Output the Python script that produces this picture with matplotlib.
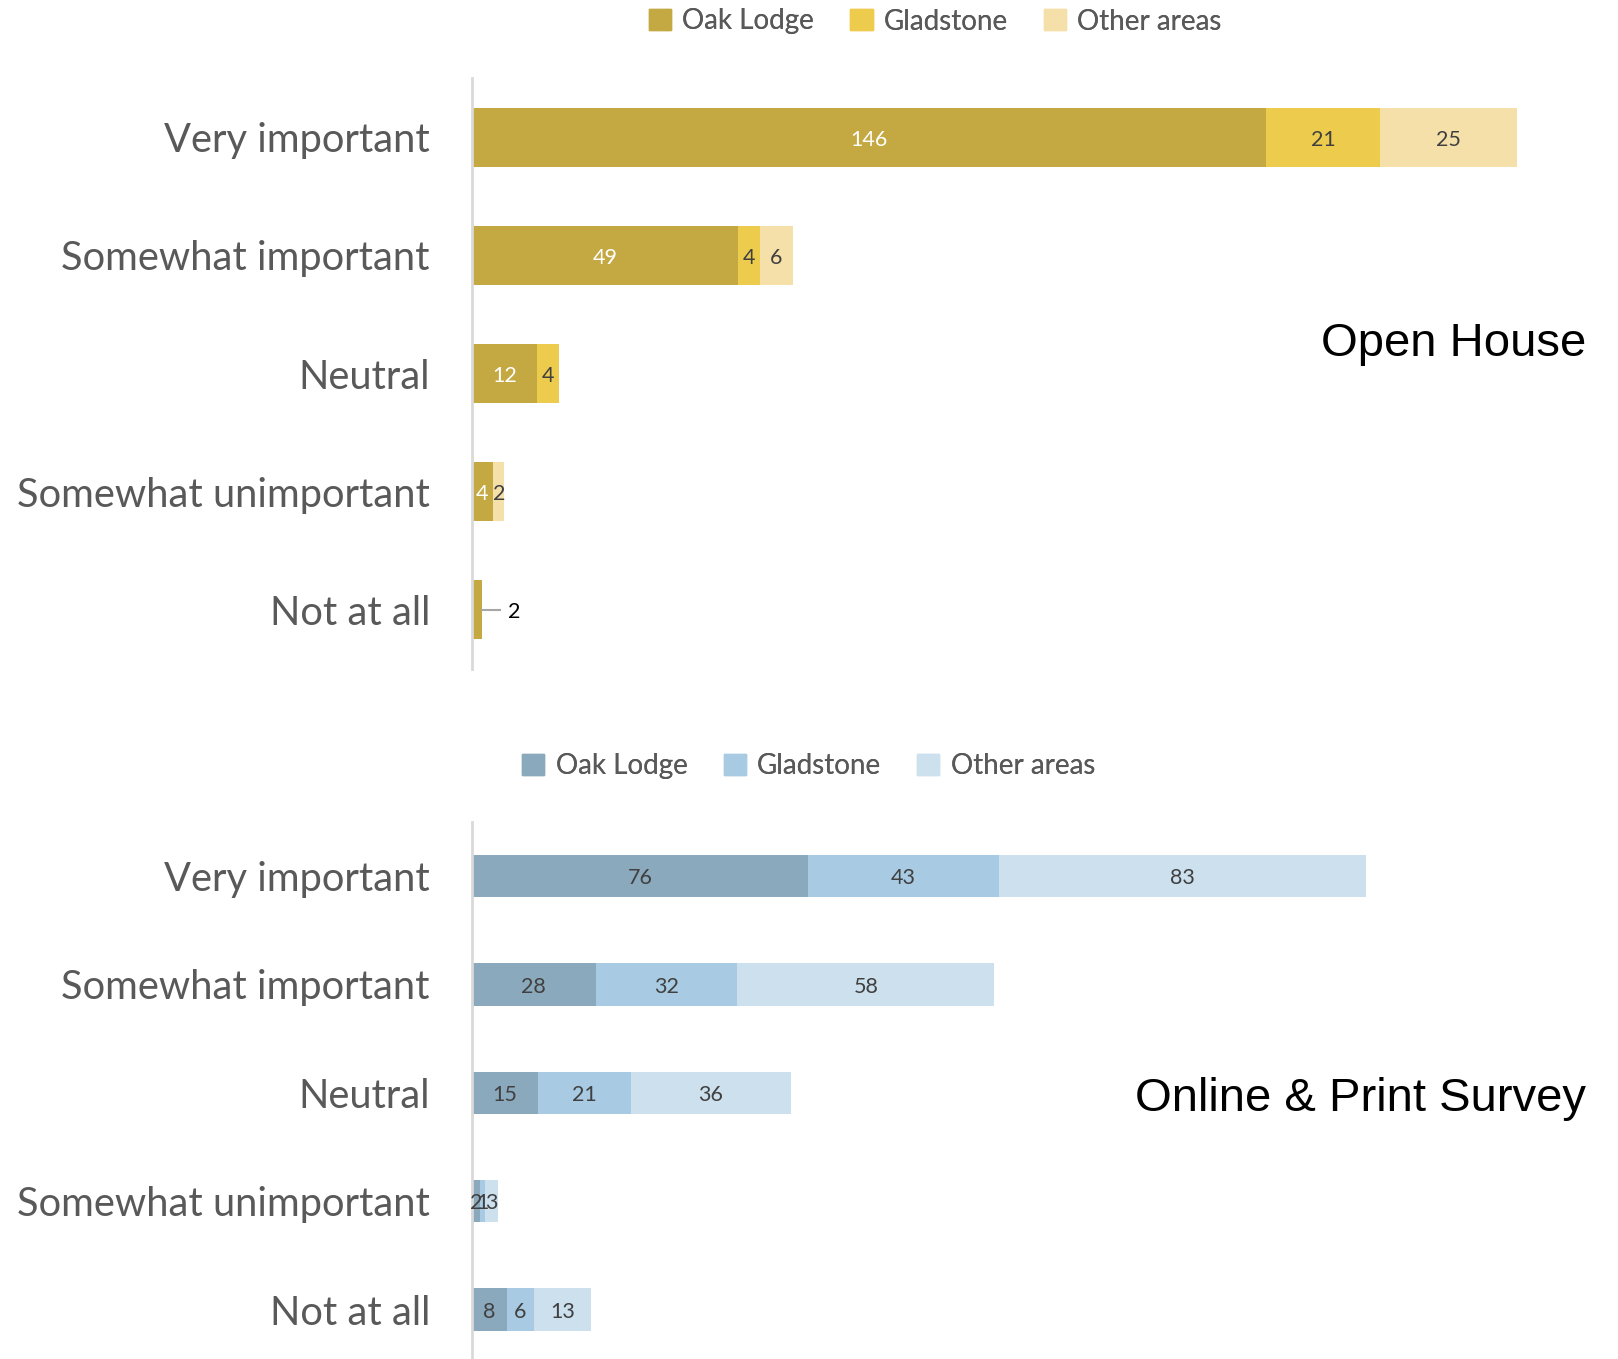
import matplotlib.pyplot as plt

# categories (top row first)
categories = ['Very important', 'Somewhat important', 'Neutral',
              'Somewhat unimportant', 'Not at all']
series_names = ['Oak Lodge', 'Gladstone', 'Other areas']

# Open House counts
oh_oak = [146, 49, 12, 4, 2]
oh_glad = [21, 4, 4, 0, 0]
oh_other = [25, 6, 0, 2, 0]

# Online & Print Survey counts
ops_oak = [76, 28, 15, 2, 8]
ops_glad = [43, 32, 21, 1, 6]
ops_other = [83, 58, 36, 3, 13]

gold_colors = ['#C4A842', '#EDCB4D', '#F5E0AA']
blue_colors = ['#8BA9BC', '#A8CBE3', '#CCE0ED']

tick_font = 'Lato'
gray_text = '#595959'

fig = plt.figure(figsize=(16.18, 13.59), dpi=100)
W, H = 1618, 1359


def px_axes(left, top, right, bottom):
    return fig.add_axes([left / W, 1 - bottom / H, (right - left) / W, (bottom - top) / H])


def draw_panel(ax, series, colors, xmax, bar_h, label_colors):
    y = list(range(len(categories)))
    left = [0] * len(categories)
    for vals, col, lcol in zip(series, colors, label_colors):
        bars = ax.barh(y, vals, left=left, height=bar_h, color=col, edgecolor='none')
        for b, v, l in zip(bars, vals, left):
            if v > 0:
                ax.text(l + v / 2, b.get_y() + b.get_height() / 2 + 0.02, str(v),
                        ha='center', va='center', color=lcol, fontsize=15.5,
                        family=tick_font)
        left = [a + b for a, b in zip(left, vals)]
    ax.set_ylim(len(categories) - 0.5, -0.5)
    ax.set_xlim(0, xmax)
    ax.set_yticks(y)
    ax.set_yticklabels(categories, fontsize=28.7, color=gray_text, family=tick_font)
    ax.tick_params(axis='y', length=0, pad=30)
    ax.set_xticks([])
    for s in ['top', 'right', 'bottom']:
        ax.spines[s].set_visible(False)
    ax.spines['left'].set_color('#D9D9D9')
    ax.spines['left'].set_linewidth(2)


# top panel: Open House
ax1 = px_axes(471.6, 78.1, 1590, 669)
draw_panel(ax1, [oh_oak, oh_glad, oh_other], gold_colors, 205.5, 0.5,
           ['white', '#404040', '#404040'])
# Not at all: label pulled outside with a leader line
for t in list(ax1.texts):
    if t.get_text() == str(oh_oak[4]) and abs(t.get_position()[1] - 4.02) < 1e-6:
        t.remove()
ax1.plot([oh_oak[4], oh_oak[4] + 3.2], [4, 4], color='#A6A6A6', lw=1.5)
ax1.text(oh_oak[4] + 4.7, 4.02, str(oh_oak[4]), ha='left', va='center',
         fontsize=15.5, color='black', family=tick_font)
ax1.text(1586 / W, 1 - 344.5 / H, 'Open House', transform=fig.transFigure,
         ha='right', va='center', fontsize=34, family='Liberation Sans', color='black')

# bottom panel: Online & Print Survey
ax2 = px_axes(471.6, 821.9, 1590, 1363.7)
draw_panel(ax2, [ops_oak, ops_glad, ops_other], blue_colors, 252.5, 0.39,
           ['#404040', '#404040', '#404040'])
ax2.text(1586 / W, 1 - 1099 / H, 'Online & Print Survey', transform=fig.transFigure,
         ha='right', va='center', fontsize=34, family='Liberation Sans', color='black')

# legends
for colors, xcen, ycen in [(gold_colors, 906.5, 21.5), (blue_colors, 783.5, 766)]:
    handles = [plt.Rectangle((0, 0), 1, 1, color=c) for c in colors]
    leg = fig.legend(handles, series_names, loc='center', ncol=3,
                     bbox_to_anchor=(xcen * 1.032 / W, 1 - ycen / H),
                     frameon=False, handlelength=0.8, handleheight=0.8,
                     handletextpad=0.4, columnspacing=1.3,
                     prop={'family': tick_font, 'size': 20})
    for t in leg.get_texts():
        t.set_color(gray_text)
    fig.add_artist(leg)

fig.savefig('out.png', dpi=100)
